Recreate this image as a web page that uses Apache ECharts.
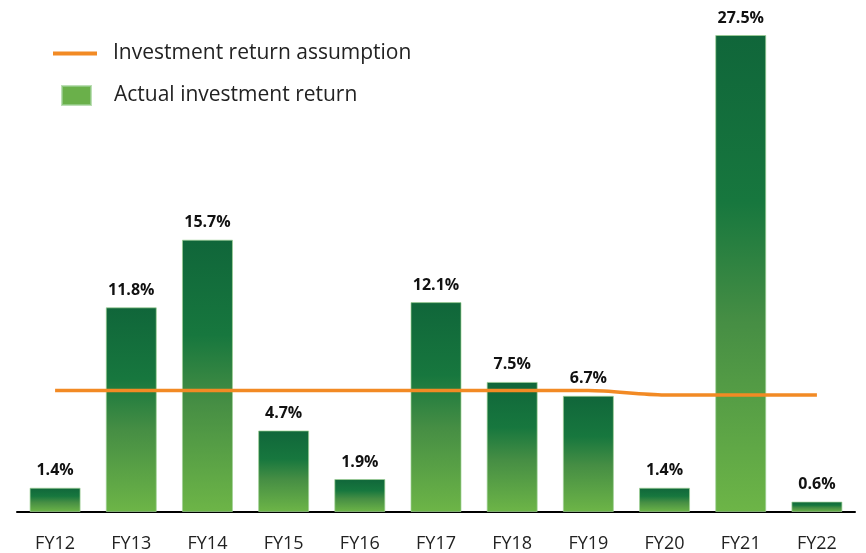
<!DOCTYPE html>
<html>
<head>
<meta charset="utf-8">
<script src="https://cdn.jsdelivr.net/npm/echarts@6/dist/echarts.min.js"></script>
<style>
    html, body {margin: 0; padding: 0; background: #fff;}
    #chart {width: 866px; height: 553px;}
</style>
</head>
<body>
<div id="chart"></div>
<script>
    //年度
    const years = ['FY12', 'FY13', 'FY14', 'FY15', 'FY16', 'FY17', 'FY18', 'FY19', 'FY20', 'FY21', 'FY22'];
    //实际回报率(%)
    const actualReturn = [1.4, 11.8, 15.7, 4.7, 1.9, 12.1, 7.5, 6.7, 1.4, 27.5, 0.6];
    //假设回报率(%)
    const assumedReturn = [7.0, 7.0, 7.0, 7.0, 7.0, 7.0, 7.0, 7.0, 6.75, 6.75, 6.75];

    const font = '"Open Sans", "Noto Sans", sans-serif';

    const chart = echarts.init(document.getElementById('chart'));

    const barGradient = new echarts.graphic.LinearGradient(0, 0, 0, 1, [
        {offset: 0, color: '#10663a'},
        {offset: 0.35, color: '#17773e'},
        {offset: 0.6, color: '#468e44'},
        {offset: 1, color: '#6db547'}
    ]);

    const option = {
        animation: false,
        textStyle: {fontFamily: font},
        grid: {left: 17, right: 11, top: 35, bottom: 41},
        legend: [
            {
                orient: 'vertical',
                left: 48, top: 38,
                icon: 'rect',
                itemWidth: 44, itemHeight: 4,
                textStyle: {fontSize: 21, color: '#222', fontFamily: font, padding: [0, 0, 0, 11]},
                data: ['Investment return assumption']
            },
            {
                orient: 'vertical',
                left: 56, top: 80,
                icon: 'rect',
                itemWidth: 29, itemHeight: 19,
                textStyle: {fontSize: 21, color: '#222', fontFamily: font, padding: [0, 0, 0, 18]},
                data: [{name: 'Actual investment return', itemStyle: {color: '#6ab04a'}}]
            }
        ],
        xAxis: {
            type: 'category',
            data: years,
            axisLine: {lineStyle: {color: '#000', width: 2}},
            axisTick: {show: false},
            axisLabel: {fontSize: 18, color: '#222', margin: 23, fontFamily: font}
        },
        yAxis: {
            type: 'value',
            min: 0,
            max: 27.5,
            show: false
        },
        series: [
            {
                name: 'Actual investment return',
                type: 'bar',
                data: actualReturn,
                barWidth: 51,
                itemStyle: {
                    color: barGradient,
                    borderColor: 'rgba(160,210,150,0.7)',
                    borderWidth: 1
                },
                label: {
                    show: true,
                    position: 'top',
                    distance: 9,
                    fontSize: 16,
                    fontWeight: 'bold',
                    color: '#111',
                    fontFamily: font,
                    formatter: p => p.value.toFixed(1) + '%'
                },
                z: 2
            },
            {
                name: 'Investment return assumption',
                type: 'line',
                data: assumedReturn,
                smooth: 0.3,
                symbol: 'none',
                lineStyle: {color: '#f28a24', width: 3.5},
                itemStyle: {color: '#f28a24'},
                z: 3
            }
        ]
    };

    chart.setOption(option);
</script>
</body>
</html>
